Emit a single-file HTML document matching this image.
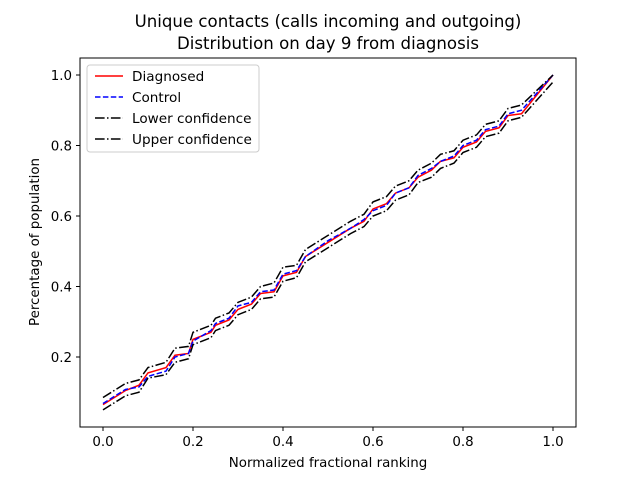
<!DOCTYPE html>
<html><head><meta charset="utf-8"><style>body{margin:0;background:#fff}svg{font-family:"DejaVu Sans","Liberation Sans",sans-serif}</style></head>
<body>
<svg id="chart" width="640" height="480" viewBox="0 0 640 480">
<rect width="640" height="480" fill="#fff"/>
<text x="328" y="27" text-anchor="middle" font-size="16.6">Unique contacts (calls incoming and outgoing)</text>
<text x="328" y="49" text-anchor="middle" font-size="16.6">Distribution on day 9 from diagnosis</text>
<g id="plot"></g>
<rect x="80" y="58" width="496" height="369" fill="none" stroke="#000" stroke-width="1"/>
<g id="ticks" font-size="13.4"></g>
<text x="328" y="467" text-anchor="middle" font-size="13.4">Normalized fractional ranking</text>
<text transform="translate(39,242) rotate(-90)" text-anchor="middle" font-size="13.4">Percentage of population</text>
<g>
<rect x="87" y="65" width="172" height="87" rx="3" fill="#fff" fill-opacity="0.8" stroke="#ccc"/>
<g><line x1="95" y1="76" x2="123" y2="76" stroke="red" stroke-width="1.5"/><text x="132" y="81" font-size="13.6">Diagnosed</text></g>
<g><line x1="95" y1="97" x2="123" y2="97" stroke="blue" stroke-width="1.5" stroke-dasharray="5.5,2.4"/><text x="132" y="102" font-size="13.6">Control</text></g>
<g><line x1="95" y1="118" x2="123" y2="118" stroke="#000" stroke-width="1.5" stroke-dasharray="9.6,2.4,1.5,2.4"/><text x="132" y="123" font-size="13.6">Lower confidence</text></g>
<g><line x1="95" y1="139" x2="123" y2="139" stroke="#000" stroke-width="1.5" stroke-dasharray="9.6,2.4,1.5,2.4"/><text x="132" y="144" font-size="13.6">Upper confidence</text></g>
</g>
</svg>
<script>
const xs = [0,0.05,0.08,0.1,0.14,0.16,0.19,0.2,0.24,0.25,0.28,0.3,0.33,0.35,0.38,0.4,0.43,0.45,0.5,0.55,0.58,0.6,0.63,0.65,0.68,0.7,0.73,0.75,0.78,0.8,0.83,0.85,0.88,0.9,0.93,1.0];
const diagnosed = [0.065,0.105,0.12,0.155,0.17,0.205,0.21,0.25,0.27,0.29,0.305,0.335,0.35,0.38,0.385,0.43,0.44,0.485,0.525,0.565,0.585,0.62,0.635,0.665,0.68,0.71,0.73,0.755,0.765,0.795,0.81,0.84,0.85,0.885,0.89,1.0];
const control = [0.068,0.108,0.115,0.145,0.16,0.2,0.21,0.245,0.275,0.295,0.31,0.345,0.355,0.385,0.39,0.435,0.445,0.485,0.53,0.565,0.59,0.615,0.63,0.665,0.68,0.715,0.735,0.755,0.77,0.8,0.815,0.845,0.855,0.89,0.9,1.0];
const lower = [0.05,0.09,0.1,0.14,0.15,0.185,0.195,0.235,0.255,0.275,0.29,0.32,0.335,0.365,0.37,0.415,0.425,0.47,0.51,0.55,0.57,0.6,0.615,0.645,0.66,0.695,0.71,0.735,0.75,0.78,0.795,0.825,0.835,0.87,0.88,0.98];
const upper = [0.085,0.125,0.135,0.17,0.185,0.225,0.23,0.27,0.29,0.31,0.325,0.355,0.37,0.4,0.41,0.455,0.46,0.505,0.545,0.585,0.605,0.64,0.655,0.685,0.7,0.73,0.75,0.775,0.785,0.815,0.83,0.86,0.87,0.905,0.915,1.0];
const xTicks = [0,0.2,0.4,0.6,0.8,1.0];
const xTickLabels = ["0.0","0.2","0.4","0.6","0.8","1.0"];
const yTicks = [0.2,0.4,0.6,0.8,1.0];
const yTickLabels = ["0.2","0.4","0.6","0.8","1.0"];
const sx = v => 103 + v*450;
const sy = v => 427.5 - v*352.5;
const NS = "http://www.w3.org/2000/svg";
const plot = document.getElementById('plot');
function line(arr, color, dash, name){
  const p = document.createElementNS(NS,'polyline');
  p.setAttribute('points', xs.map((x,i)=>sx(x)+','+sy(arr[i])).join(' '));
  p.setAttribute('fill','none');p.setAttribute('stroke',color);p.setAttribute('stroke-width','1.5');
  if(dash) p.setAttribute('stroke-dasharray',dash);
  
  
  plot.appendChild(p);
}
line(diagnosed,'red',null,'diagnosed-line');
line(control,'blue','5.5,2.4','control-line');
line(lower,'#000','9.6,2.4,1.5,2.4','lower-confidence-line');
line(upper,'#000','9.6,2.4,1.5,2.4','upper-confidence-line');
const tg = document.getElementById('ticks');
xTicks.forEach((t,i)=>{
  const l=document.createElementNS(NS,'line');
  l.setAttribute('x1',sx(t));l.setAttribute('x2',sx(t));l.setAttribute('y1',427);l.setAttribute('y2',431);l.setAttribute('stroke','#000');
  
  
  tg.appendChild(l);
  const tx=document.createElementNS(NS,'text');
  tx.setAttribute('x',sx(t));tx.setAttribute('y',446);tx.setAttribute('text-anchor','middle');tx.textContent=xTickLabels[i];
  
  
  tg.appendChild(tx);
});
yTicks.forEach((t,i)=>{
  const l=document.createElementNS(NS,'line');
  l.setAttribute('x1',76);l.setAttribute('x2',80);l.setAttribute('y1',sy(t));l.setAttribute('y2',sy(t));l.setAttribute('stroke','#000');
  
  
  tg.appendChild(l);
  const tx=document.createElementNS(NS,'text');
  tx.setAttribute('x',72);tx.setAttribute('y',sy(t)+5);tx.setAttribute('text-anchor','end');tx.textContent=yTickLabels[i];
  
  
  tg.appendChild(tx);
});
</script>
</body></html>
